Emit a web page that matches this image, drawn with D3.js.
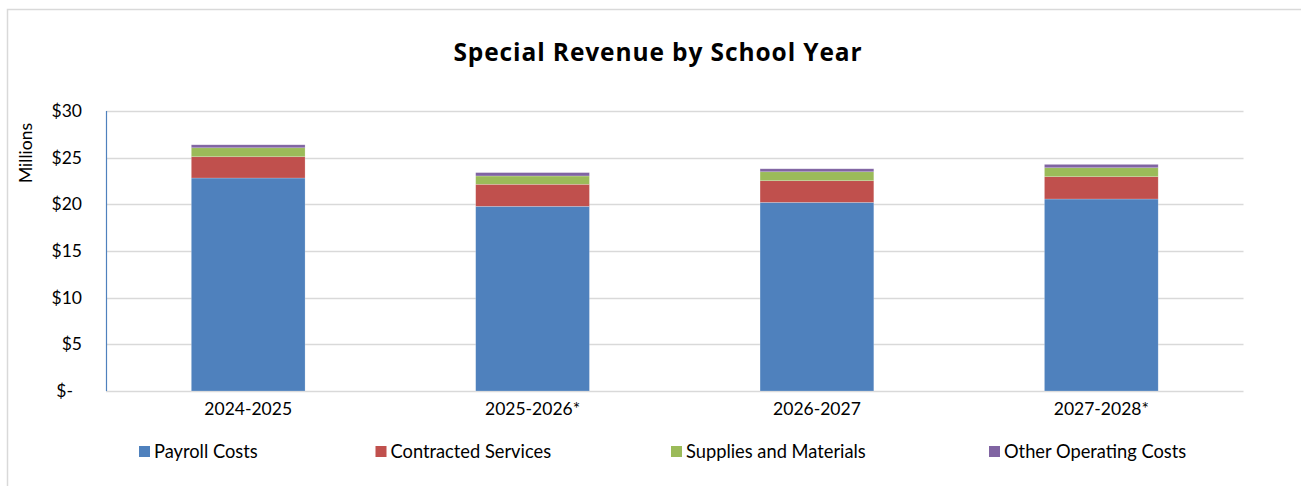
<!DOCTYPE html>
<html>
<head>
<meta charset="utf-8">
<script src="https://cdn.jsdelivr.net/npm/d3@7"></script>
<style>
  html, body { margin: 0; padding: 0; background: #fff; }
  svg { display: block; font-family: Lato, "Open Sans", sans-serif; }
</style>
</head>
<body>
<svg id="chart" width="1301" height="486"></svg>
<script>
// School years on the x axis
const years = ["2024-2025", "2025-2026*", "2026-2027", "2027-2028*"];

// Spending categories (stack order, bottom to top) and their colours
const seriesNames = ["Payroll Costs", "Contracted Services", "Supplies and Materials", "Other Operating Costs"];
const seriesColors = ["#4f81bd", "#c0504d", "#9bbb59", "#8064a2"];

// Values in millions of dollars
const payrollCosts        = [22.82, 19.79, 20.21, 20.57];
const contractedServices  = [2.28, 2.36, 2.32, 2.39];
const suppliesMaterials   = [0.96, 0.89, 0.96, 0.96];
const otherOperatingCosts = [0.32, 0.36, 0.32, 0.36];

// Y axis ticks
const yTicks = [0, 5, 10, 15, 20, 25, 30];
const yTickLabels = ["$-", "$5", "$10", "$15", "$20", "$25", "$30"];

const seriesValues = [payrollCosts, contractedServices, suppliesMaterials, otherOperatingCosts];
const rows = years.map((y, i) => {
  const r = { year: y };
  seriesNames.forEach((s, k) => { r[s] = seriesValues[k][i]; });
  return r;
});
const stacked = d3.stack().keys(seriesNames)(rows);

const svg = d3.select("#chart");
const plot = { left: 106, right: 1243.5, top: 111, bottom: 391 };

// Outer chart frame
svg.append("rect")
  .attr("x", 7.5).attr("y", 9.5)
  .attr("width", 1310).attr("height", 500)
  .attr("fill", "#fff").attr("stroke", "#d9d9d9").attr("stroke-width", 1.5);

const x = d3.scaleBand().domain(years).range([plot.left, plot.right]).paddingInner(0).paddingOuter(0);
const y = d3.scaleLinear().domain([0, 30]).range([plot.bottom, plot.top]);

// Gridlines
svg.append("g")
  .selectAll("line")
  .data(yTicks)
  .join("line")
  .attr("x1", plot.left).attr("x2", plot.right)
  .attr("y1", d => Math.round(y(d)) + 0.5).attr("y2", d => Math.round(y(d)) + 0.5)
  .attr("stroke", "#d9d9d9").attr("stroke-width", 1.5);

// Stacked bars
const barWidth = x.bandwidth() * 0.40;
svg.append("g")
  .selectAll("g")
  .data(stacked)
  .join("g")
  .attr("fill", (d, i) => seriesColors[i])
  .selectAll("rect")
  .data(d => d)
  .join("rect")
  .attr("x", d => x(d.data.year) + (x.bandwidth() - barWidth) / 2)
  .attr("width", barWidth)
  .attr("y", d => y(d[1]))
  .attr("height", d => y(d[0]) - y(d[1]))
  .attr("stroke", "rgba(255,255,255,0.35)")
  .attr("stroke-width", 0.6);

// Left axis line
svg.append("line")
  .attr("x1", plot.left + 0.5).attr("x2", plot.left + 0.5)
  .attr("y1", plot.top).attr("y2", plot.bottom)
  .attr("stroke", "#4f81bd").attr("stroke-width", 1.2);

// Y axis labels (accounting style: zero shown as "$-")
const yAxis = d3.axisLeft(y).tickValues(yTicks)
  .tickFormat((d, i) => yTickLabels[i]).tickSize(0).tickPadding(24);
const gy = svg.append("g").attr("transform", `translate(${plot.left},0)`).call(yAxis);
gy.select(".domain").remove();
gy.selectAll("text")
  .attr("font-size", 17.5).attr("fill", "#000")
  .attr("font-family", "Lato, sans-serif")
  .attr("dx", d => d === 0 ? -9 : 0);

// X axis labels
const xAxis = d3.axisBottom(x).tickSize(0).tickPadding(12);
const gx = svg.append("g").attr("transform", `translate(0,${plot.bottom})`).call(xAxis);
gx.select(".domain").remove();
gx.selectAll("text")
  .attr("font-size", 17.5).attr("fill", "#000")
  .attr("font-family", "Lato, sans-serif");

// Axis title
svg.append("text")
  .attr("transform", "translate(32,153) rotate(-90)")
  .attr("text-anchor", "middle")
  .attr("font-size", 17.5)
  .text("Millions");

// Chart title
svg.append("text")
  .attr("x", 658).attr("y", 61)
  .attr("text-anchor", "middle")
  .attr("font-family", "'Open Sans', sans-serif")
  .attr("font-size", 24.5).attr("font-weight", "bold")
  .attr("letter-spacing", 0.9)
  .text("Special Revenue by School Year");

// Legend
const legendX = [139, 375.5, 671, 989];
const legend = svg.append("g")
  .selectAll("g")
  .data(seriesNames)
  .join("g")
  .attr("transform", (d, i) => `translate(${legendX[i]},446)`);
legend.append("rect")
  .attr("width", 11).attr("height", 11)
  .attr("fill", (d, i) => seriesColors[i]);
legend.append("text")
  .attr("x", 15).attr("y", 11.5)
  .attr("font-size", 18.3)
  .text(d => d);
</script>
</body>
</html>
